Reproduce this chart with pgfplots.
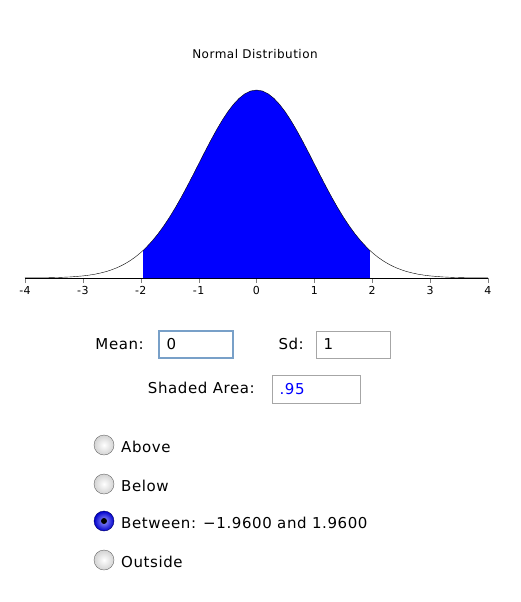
\documentclass[border=0pt]{standalone}
\usepackage{pgfplots}
\pgfplotsset{compat=1.18}
\usepackage{pgfplotstable}
\usepackage{fontspec}
\setmainfont{DejaVu Sans}[LetterSpace=4]
\pgfplotstableread{
x y
-4.0 0.00013
-3.8 0.00029
-3.6 0.00061
-3.4 0.00123
-3.2 0.00238
-3.0 0.00443
-2.9 0.00595
-2.8 0.00792
-2.7 0.01042
-2.6 0.01358
-2.5 0.01753
-2.4 0.02239
-2.3 0.02833
-2.2 0.03547
-2.1 0.04398
-2.0 0.05399
-1.96 0.05844
-1.9 0.06562
-1.8 0.07895
-1.7 0.09405
-1.6 0.11092
-1.5 0.12952
-1.4 0.14973
-1.3 0.17137
-1.2 0.19419
-1.1 0.21785
-1.0 0.24197
-0.9 0.26609
-0.8 0.28969
-0.7 0.31225
-0.6 0.33322
-0.5 0.35207
-0.4 0.36827
-0.3 0.38139
-0.2 0.39104
-0.1 0.39695
0.0 0.39894
0.1 0.39695
0.2 0.39104
0.3 0.38139
0.4 0.36827
0.5 0.35207
0.6 0.33322
0.7 0.31225
0.8 0.28969
0.9 0.26609
1.0 0.24197
1.1 0.21785
1.2 0.19419
1.3 0.17137
1.4 0.14973
1.5 0.12952
1.6 0.11092
1.7 0.09405
1.8 0.07895
1.9 0.06562
1.96 0.05844
2.0 0.05399
2.1 0.04398
2.2 0.03547
2.3 0.02833
2.4 0.02239
2.5 0.01753
2.6 0.01358
2.7 0.01042
2.8 0.00792
2.9 0.00595
3.0 0.00443
3.2 0.00238
3.4 0.00123
3.6 0.00061
3.8 0.00029
4.0 0.00013
}\curve
\pgfplotstableread{
x y
-1.96 0.05844
-1.9 0.06562
-1.8 0.07895
-1.7 0.09405
-1.6 0.11092
-1.5 0.12952
-1.4 0.14973
-1.3 0.17137
-1.2 0.19419
-1.1 0.21785
-1.0 0.24197
-0.9 0.26609
-0.8 0.28969
-0.7 0.31225
-0.6 0.33322
-0.5 0.35207
-0.4 0.36827
-0.3 0.38139
-0.2 0.39104
-0.1 0.39695
0.0 0.39894
0.1 0.39695
0.2 0.39104
0.3 0.38139
0.4 0.36827
0.5 0.35207
0.6 0.33322
0.7 0.31225
0.8 0.28969
0.9 0.26609
1.0 0.24197
1.1 0.21785
1.2 0.19419
1.3 0.17137
1.4 0.14973
1.5 0.12952
1.6 0.11092
1.7 0.09405
1.8 0.07895
1.9 0.06562
1.96 0.05844
}\shade
\definecolor{fieldblue}{RGB}{120,160,200}
\begin{document}
\begin{tikzpicture}[x=1pt,y=1pt]
\useasboundingbox (0,0) rectangle (520,-602);
\begin{axis}[at={(25pt,-278pt)},anchor=south west,scale only axis,
 width=463pt,height=188pt,xmin=-4,xmax=4,ymin=0,ymax=0.399,clip=false,
 axis x line*=bottom, axis y line=none, xtick={-4,...,4}, tick align=outside,
 major tick length=5pt, x axis line style={black},
 ticklabel style={font=\fontsize{11}{13}\selectfont},
 /pgf/number format/assume math mode=true]
\addplot[draw=none,fill=blue] table[x=x,y=y]{\shade} \closedcycle;
\addplot[black,thin] table[x=x,y=y]{\curve};
\end{axis}
\node[font=\fontsize{12}{14}\selectfont] at (255,-54) {Normal Distribution};
\begin{scope}[font=\fontsize{15}{18}\selectfont]
\node[anchor=east,inner sep=0pt] at (144,-344) {Mean:};
\draw[fieldblue,line width=1.5pt] (159,-331) rectangle (233,-358);
\node[anchor=west] at (163,-344.5) {0};
\node[anchor=east,inner sep=0pt] at (304,-344) {Sd:};
\draw[gray!70] (316,-331) rectangle (390,-358);
\node[anchor=west] at (320,-344.5) {1};
\node[anchor=east,inner sep=0pt] at (255,-388) {Shaded Area:};
\draw[gray!70] (272,-375) rectangle (360,-403);
\node[anchor=west,text=blue] at (276,-389) {.95};
\foreach \yy/\lab in {445/Above,484/Below,560/Outside}{
 \shade[inner color=white,outer color=gray!35,draw=gray!80!black] (104,-\yy) circle (10);
 \node[anchor=west,inner sep=0pt] at (121,-\yy-2) {\lab};}
\shade[inner color=blue!40,outer color=blue!80!black,draw=blue!40!black] (104,-521) circle (10);
\fill[black] (104,-521) circle (3);
\node[anchor=west,inner sep=0pt] at (121,-523) {Between: −1.9600 and 1.9600};
\end{scope}
\end{tikzpicture}
\end{document}
